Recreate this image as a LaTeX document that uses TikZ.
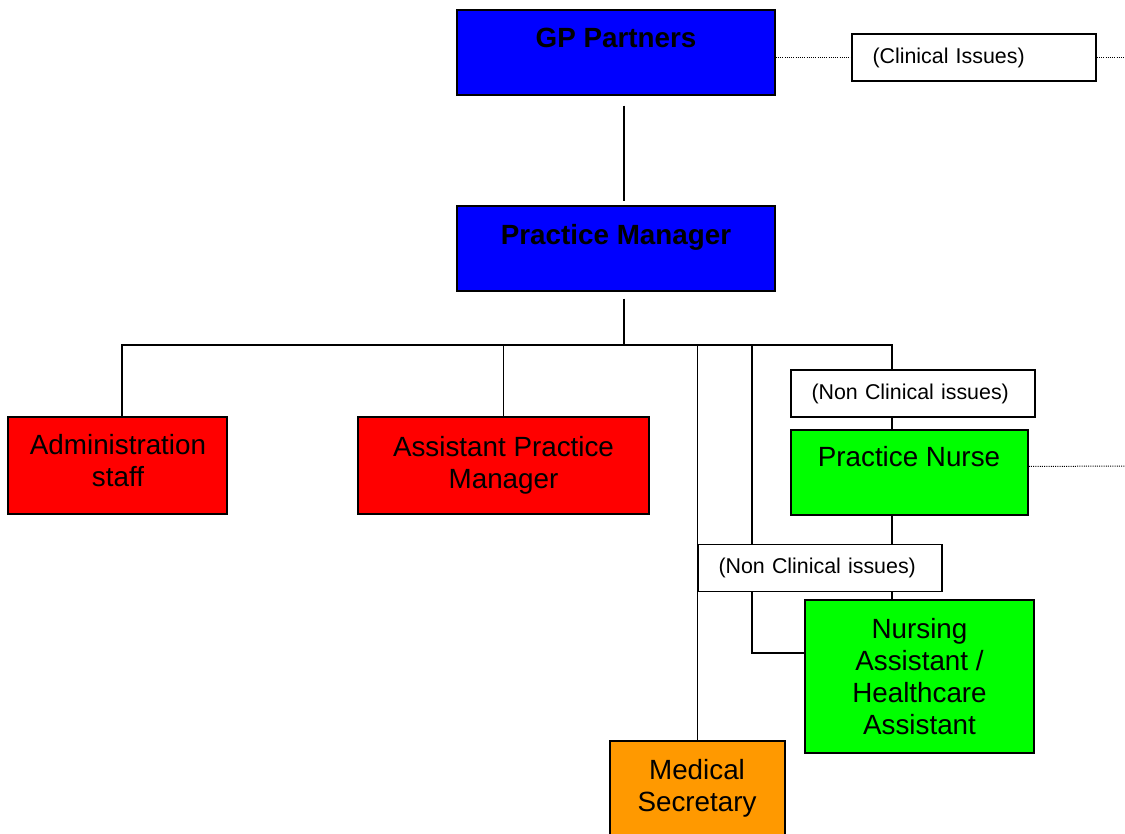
\documentclass[tikz,border=0pt]{standalone}
\usepackage{fontspec}
\setmainfont{Liberation Sans}
\usetikzlibrary{positioning, backgrounds}
\definecolor{gpblue}{HTML}{0000FF}
\definecolor{adminred}{HTML}{FF0000}
\definecolor{nursegreen}{HTML}{00FF00}
\definecolor{secorange}{HTML}{FF9900}

\tikzset{
  post/.style={draw=black, line width=1.5pt, inner sep=0pt},
  bigtext/.style={font=\fontsize{27.8}{32}\selectfont, align=center, inner sep=0pt},
  boldtext/.style={font=\fontsize{27.8}{32}\selectfont\bfseries, inner sep=0pt},
  issue/.style={draw=black, line width=1.5pt, fill=white, minimum height=47pt,
    text width=203pt, inner xsep=20.5pt, inner ysep=0pt, align=left,
    font=\fontsize{21.4}{25}\selectfont},
  link/.style={line width=1.5pt},
  dotlink/.style={line width=1pt, dash pattern=on 1pt off 1.2pt},
}

\begin{document}
\begin{tikzpicture}[x=1pt, y=-1pt]
\useasboundingbox (0,0) rectangle (1125,834);
\clip (0,0) rectangle (1125,834);

% Partners and manager
\node[post, fill=gpblue, minimum width=318pt, minimum height=85pt] (gp) at (616,52.5) {};
\node[boldtext] (gptext) at (616,38) {GP Partners};
\node[issue] (clin) at (974,57.5) {(Clinical Issues)};

\node[post, fill=gpblue, minimum width=318pt, minimum height=85pt] (pm) at (616,248.5) {};
\node[boldtext] (pmtext) at (616,237) {Practice Manager};

% Office staff
\node[post, fill=adminred, minimum width=219pt, minimum height=97pt] (admin) at (117.5,465.5) {};
\node[bigtext] (admintext) at (118,461) {Administration\\staff};
\node[post, fill=adminred, minimum width=291pt, minimum height=97pt, bigtext] (apm) at (503.5,465.5) {Assistant Practice\\Manager};

% Nursing team
\node[issue] (nc1) at (913,393.5) {(Non Clinical issues)};
\node[post, fill=nursegreen, minimum width=237pt, minimum height=85pt] (pn) at (909.5,472.5) {};
\node[bigtext] (pntext) at (909,457) {Practice Nurse};
\node[issue] (nc2) at (820,568) {(Non Clinical issues)};
\node[post, fill=nursegreen, minimum width=229pt, minimum height=153pt, bigtext] (na) at (919.5,676.5) {Nursing\\Assistant /\\Healthcare\\Assistant};

% Secretary
\node[post, fill=secorange, minimum width=175pt, minimum height=100pt] (ms) at (697.5,791) {};
\node[bigtext] (mstext) at (697,788.5) {Medical\\Secretary};

% Connectors
\begin{scope}[on background layer]
\coordinate (hub) at (624,345);
\coordinate (nurseline) at (892,345);
\coordinate (assistline) at (752,345);
\coordinate (clinend) at (1125,57.5);
\coordinate (pnend) at (1125,466);
\draw[link] ([xshift=8pt,yshift=-10pt]gp.south) -- ([xshift=8pt,yshift=4pt]pm.north);
\draw[link] ([xshift=8pt,yshift=-7pt]pm.south) -- (hub);
\draw[link] ([xshift=4.5pt]admin.north) |- (nurseline) -- (nurseline |- nc1.north);
\draw[link] (apm.north) -- (apm.north |- hub);
\draw[link] (ms.north |- hub) -- (ms.north);
\draw[link] (assistline) |- ([yshift=23.5pt]na.west);
\draw[link] (nurseline |- nc1.south) -- (nurseline |- pn.north);
\draw[link] (nurseline |- pn.south) -- (nurseline |- nc2.north);
\draw[link] (nurseline |- nc2.south) -- (nurseline |- na.north);
\draw[dotlink] (gp.east |- clin.west) -- (clin.west);
\draw[dotlink] (clin.east) -- (clinend);
\draw[dotlink] ([yshift=6pt]pn.east) -- (pnend);
\end{scope}
\end{tikzpicture}
\end{document}
